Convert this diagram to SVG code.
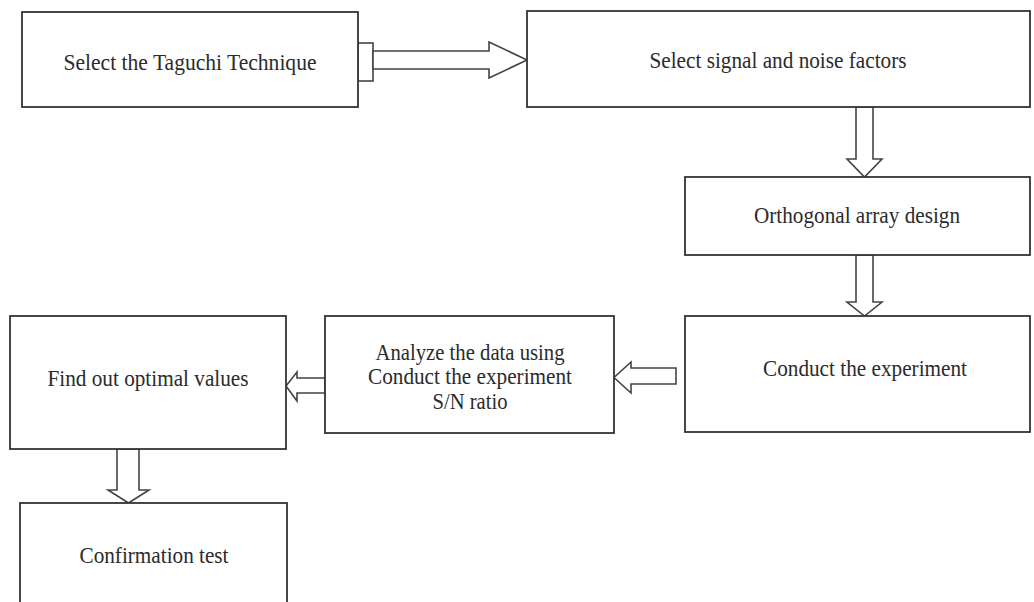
<svg xmlns="http://www.w3.org/2000/svg" width="1034" height="602" viewBox="0 0 1034 602">
<style>
.box{fill:#fff;stroke:#333;stroke-width:1.8}
.arr{fill:#fff;stroke:#444;stroke-width:1.6;stroke-linejoin:miter}
text{font-family:'Liberation Serif',serif;font-size:24px;fill:#2b2b2b;text-anchor:middle}
</style>
<rect width="1034" height="602" fill="#fff"/>
<g id="connectors">
<rect class="arr" x="358" y="43" width="15" height="38"/>
<polygon class="arr" points="373,51 489,51 489,42 527,60 489,78 489,69 373,69"/>
<polygon class="arr" points="856,107 856,159 847,159 864.5,177 882,159 873,159 873,107"/>
<polygon class="arr" points="856,255 856,302 847,302 864.5,316 882,302 873,302 873,255"/>
<polygon class="arr" points="676,368 631,368 631,362 614,377.5 631,393 631,384 676,384 676,368"/>
<polygon class="arr" points="325,378 297,378 297,372 286,386 297,401 297,393 325,393"/>
<polygon class="arr" points="117,449 117,490 108,490 128.5,503 149,490 139,490 139,449"/>
</g>
<g id="n1"><rect class="box" x="22" y="12" width="336" height="95"/><text font-family="Liberation Serif, serif" x="190" y="70" textLength="253" lengthAdjust="spacingAndGlyphs">Select the Taguchi Technique</text></g>
<g id="n2"><rect class="box" x="527" y="11" width="503" height="96"/><text font-family="Liberation Serif, serif" x="778" y="68" textLength="257" lengthAdjust="spacingAndGlyphs">Select signal and noise factors</text></g>
<g id="n3"><rect class="box" x="685" y="177" width="345" height="78"/><text font-family="Liberation Serif, serif" x="857" y="223" textLength="206" lengthAdjust="spacingAndGlyphs">Orthogonal array design</text></g>
<g id="n4"><rect class="box" x="685" y="316" width="345" height="116"/><text font-family="Liberation Serif, serif" x="865" y="376" textLength="204" lengthAdjust="spacingAndGlyphs">Conduct the experiment</text></g>
<g id="n5"><rect class="box" x="325" y="316" width="289" height="117"/><text font-family="Liberation Serif, serif" x="470" y="360" textLength="189" lengthAdjust="spacingAndGlyphs">Analyze the data using</text><text font-family="Liberation Serif, serif" x="470" y="384" textLength="204" lengthAdjust="spacingAndGlyphs">Conduct the experiment</text><text font-family="Liberation Serif, serif" x="470" y="409" textLength="75" lengthAdjust="spacingAndGlyphs">S/N ratio</text></g>
<g id="n6"><rect class="box" x="10" y="316" width="276" height="133"/><text font-family="Liberation Serif, serif" x="148" y="386" textLength="201" lengthAdjust="spacingAndGlyphs">Find out optimal values</text></g>
<g id="n7"><rect class="box" x="20" y="503" width="267" height="110"/><text font-family="Liberation Serif, serif" x="154" y="563" textLength="149" lengthAdjust="spacingAndGlyphs">Confirmation test</text></g>
</svg>
